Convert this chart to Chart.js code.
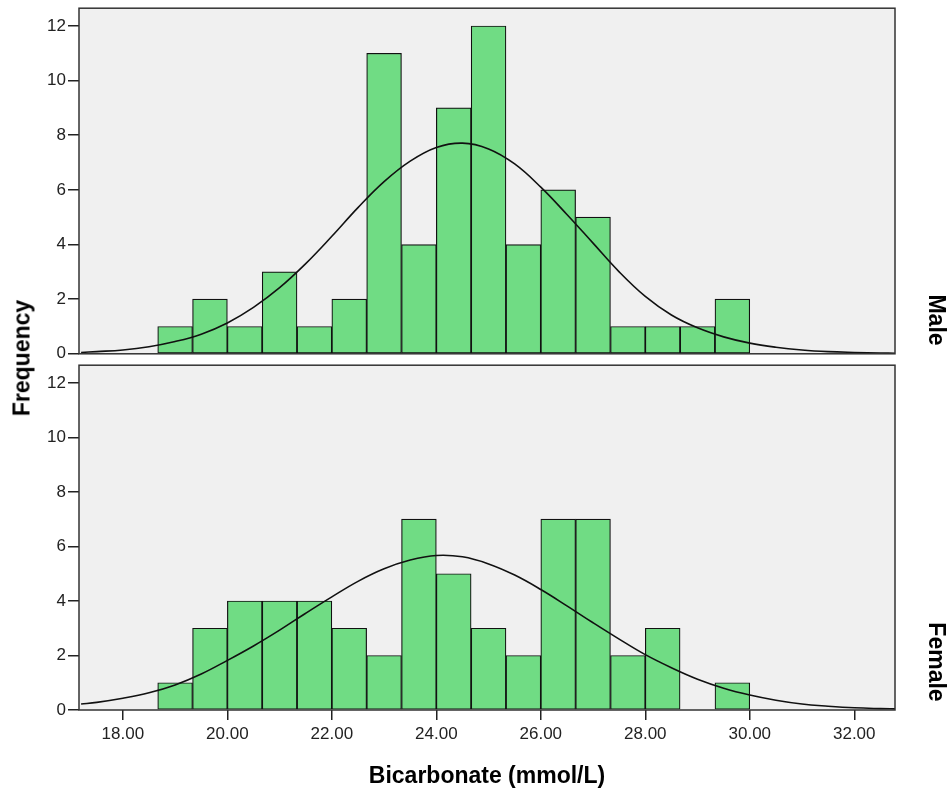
<!DOCTYPE html>
<html>
<head>
<meta charset="utf-8">
<script src="https://cdn.jsdelivr.net/npm/chart.js@4.4.1/dist/chart.umd.min.js"></script>
<style>
  body { margin: 0; background: #fff; }
  #wrap { position: relative; width: 951px; height: 793px; overflow: hidden; font-family: "Liberation Sans", Arial, sans-serif; }
  #topBox { position: absolute; left: 0; top: -4px; width: 951px; height: 370px; }
  #botBox { position: absolute; left: 0; top: 353px; width: 951px; height: 440px; }
  .vlab { position: absolute; font-weight: bold; font-size: 23px; color: #000; white-space: nowrap; }
  #ylab { left: 22px; top: 358px; transform: translate(-50%, -50%) rotate(-90deg); }
  #male { left: 936px; top: 320px; transform: translate(-50%, -50%) rotate(90deg); }
  #female { left: 936px; top: 662px; transform: translate(-50%, -50%) rotate(90deg); }
</style>
</head>
<body>
<div id="wrap">
  <div id="topBox"><canvas id="maleChart"></canvas></div>
  <div id="botBox"><canvas id="femaleChart"></canvas></div>
  <div class="vlab" id="ylab">Frequency</div>
  <div class="vlab" id="male">Male</div>
  <div class="vlab" id="female">Female</div>
</div>
<script>
// histogram bins (centre of each 0.667 mmol/L bin)
const binCenters = [19.000, 19.667, 20.333, 21.000, 21.667, 22.333, 23.000, 23.667, 24.333,
                    25.000, 25.667, 26.333, 27.000, 27.667, 28.333, 29.000, 29.667];
const maleCounts   = [1, 2, 1, 3, 1, 2, 11, 4, 9, 12, 4, 6, 5, 1, 1, 1, 2];
const femaleCounts = [1, 3, 4, 4, 4, 3, 2, 7, 5, 3, 2, 7, 7, 2, 3, 0, 1];

// normal curves
const curveX = [17.2, 17.5, 18, 18.5, 19, 19.5, 20, 20.5, 21, 21.5, 22, 22.5, 23, 23.5, 24, 24.5,
                25, 25.5, 26, 26.5, 27, 27.5, 28, 28.5, 29, 29.5, 30, 30.5, 31, 31.5, 32, 32.5, 32.8];
const maleCurve = [0.05, 0.08, 0.14, 0.26, 0.45, 0.72, 1.13, 1.7, 2.42, 3.3, 4.3, 5.35, 6.3, 7.05, 7.55, 7.71,
                   7.5, 6.95, 6.1, 5.1, 4.05, 3.0, 2.1, 1.42, 0.95, 0.62, 0.39, 0.24, 0.14, 0.08, 0.05, 0.03, 0.02];
const femaleCurve = [0.22, 0.28, 0.43, 0.63, 0.92, 1.32, 1.82, 2.35, 2.93, 3.55, 4.15, 4.72, 5.18, 5.5, 5.67, 5.62,
                     5.36, 4.95, 4.42, 3.82, 3.2, 2.6, 2.03, 1.55, 1.13, 0.8, 0.55, 0.36, 0.22, 0.14, 0.08, 0.05, 0.04];

const xMin = 17.16, xMax = 32.78;
const yMax = 12.65;

const FONT = '"Liberation Sans", Arial, sans-serif';

// grey panel + dark frame around plot area
const panelFrame = {
  id: 'panelFrame',
  beforeDatasetsDraw(chart) {
    const a = chart.chartArea, ctx = chart.ctx;
    ctx.save();
    ctx.fillStyle = '#f0f0f0';
    ctx.fillRect(a.left, a.top, a.right - a.left, a.bottom - a.top);
    ctx.restore();
  },
  afterDraw(chart) {
    const a = chart.chartArea, ctx = chart.ctx;
    ctx.save();
    ctx.strokeStyle = '#333';
    ctx.lineWidth = 1.5;
    ctx.strokeRect(a.left, a.top, a.right - a.left, a.bottom - a.top);
    ctx.restore();
  }
};

function makePanel(id, counts, curve, showX) {
  return new Chart(id, {
    type: 'bar',
    data: {
      datasets: [{
        type: 'line',
        data: curveX.map((x, i) => ({ x: x, y: curve[i] })),
        borderColor: '#111',
        borderWidth: 1.6,
        pointRadius: 0,
        tension: 0.4,
        fill: false,
        order: 0
      }, {
        data: binCenters.map((x, i) => ({ x: x, y: counts[i] })),
        backgroundColor: '#70dc84',
        borderColor: '#111',
        borderWidth: 1.2,
        borderSkipped: false,
        barPercentage: 1,
        categoryPercentage: 1,
        order: 1
      }]
    },
    options: {
      responsive: true,
      maintainAspectRatio: false,
      animation: false,
      layout: { padding: { top: 8, right: 56, bottom: 0, left: 0 } },
      plugins: { legend: { display: false }, tooltip: { enabled: false } },
      scales: {
        x: {
          type: 'linear',
          min: xMin,
          max: xMax,
          offset: false,
          grid: { display: showX, offset: false, drawOnChartArea: false, drawTicks: true, tickLength: 10, color: '#222', lineWidth: 1.5 },
          border: { display: false },
          ticks: {
            display: showX,
            stepSize: 2,
            includeBounds: false,
            padding: 4,
            color: '#222',
            font: { family: FONT, size: 17 },
            maxRotation: 0,
            callback: v => v.toFixed(2)
          },
          title: {
            display: showX,
            text: 'Bicarbonate (mmol/L)',
            color: '#000',
            font: { family: FONT, size: 23, weight: 'bold' },
            padding: { top: 0, bottom: 3 }
          },
          afterFit: s => { s.height = showX ? 83 : 12; }
        },
        y: {
          min: 0,
          max: yMax,
          grid: { drawOnChartArea: false, drawTicks: true, tickLength: 11, color: '#222', lineWidth: 1.5 },
          border: { display: false },
          ticks: {
            stepSize: 2,
            includeBounds: false,
            padding: 2,
            color: '#222',
            font: { family: FONT, size: 17 }
          },
          afterFit: s => { s.width = 79; }
        }
      }
    },
    plugins: [panelFrame]
  });
}

makePanel('maleChart', maleCounts, maleCurve, false);
makePanel('femaleChart', femaleCounts, femaleCurve, true);
</script>
</body>
</html>
